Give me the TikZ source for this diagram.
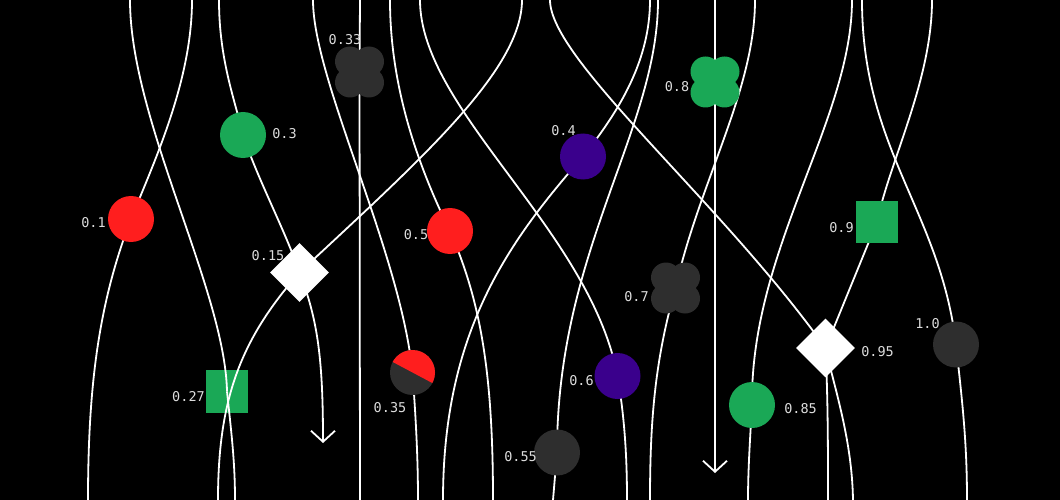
\documentclass[tikz,border=0pt]{standalone}
\usepackage{fontspec}
\newfontfamily\labelfont{DejaVu Sans Mono}
\usetikzlibrary{shapes.geometric,arrows.meta,calc}
\definecolor{cred}{HTML}{FF1E1E}
\definecolor{cgreen}{HTML}{1AA856}
\definecolor{cpurple}{HTML}{3A008C}
\definecolor{cdark}{HTML}{2E2E2E}
\definecolor{ctext}{HTML}{DDDDDD}
\pgfdeclarelayer{bg}
\pgfdeclarelayer{lines}
\pgfsetlayers{bg,lines,main}
\begin{document}
\begin{tikzpicture}[x=1pt,y=-1pt,
  conn/.style={draw=white, line width=1.8pt},
  arrowline/.style={conn, -{Straight Barb[length=11pt,width=24pt]}},
  dot/.style={circle, fill=#1, minimum size=46pt, inner sep=0pt},
  sq/.style={rectangle, fill=#1, minimum size=42.5pt, inner sep=0pt},
  dia/.style={diamond, fill=white, minimum width=59pt, minimum height=59pt, inner sep=0pt},
  clover/.style={rectangle, minimum width=49pt, minimum height=52pt, inner sep=0pt,
    path picture={
      \fill[#1] ([xshift=-9.5pt,yshift=10.5pt]path picture bounding box.center) circle[radius=15pt];
      \fill[#1] ([xshift=9.5pt,yshift=10.5pt]path picture bounding box.center) circle[radius=15pt];
      \fill[#1] ([xshift=-9.5pt,yshift=-10.5pt]path picture bounding box.center) circle[radius=15pt];
      \fill[#1] ([xshift=9.5pt,yshift=-10.5pt]path picture bounding box.center) circle[radius=15pt];
    }},
  lbl/.style={text=ctext, font=\labelfont\fontsize{13.5}{13.5}\selectfont, inner sep=0pt}
]
\useasboundingbox (0,0) rectangle (1060,500);
\begin{pgfonlayer}{bg}
\fill[black] (0,0) rectangle (1060,500);
\end{pgfonlayer}

% top and bottom end points
\coordinate (t1) at (130,0);
\coordinate (t2) at (192,0);
\coordinate (t3) at (219,0);
\coordinate (t4) at (313,0);
\coordinate (t5) at (360,0);
\coordinate (t6) at (390,0);
\coordinate (t7) at (420,0);
\coordinate (t8) at (522,0);
\coordinate (t9) at (550,0);
\coordinate (t10) at (650,0);
\coordinate (t11) at (658,0);
\coordinate (t12) at (715,0);
\coordinate (t13) at (755,0);
\coordinate (t14) at (852,0);
\coordinate (t15) at (862,0);
\coordinate (t16) at (932,0);
\coordinate (b88) at (88,500);
\coordinate (b218) at (218,500);
\coordinate (b235) at (235,500);
\coordinate (b360) at (360,500);
\coordinate (b418) at (418,500);
\coordinate (b443) at (443,500);
\coordinate (b493) at (493,500);
\coordinate (b553) at (553,500);
\coordinate (b627) at (627,500);
\coordinate (b650) at (650,500);
\coordinate (b748) at (748,500);
\coordinate (b828) at (828,500);
\coordinate (b853) at (853,500);
\coordinate (b967) at (967,500);
\coordinate (a1) at (323,443);
\coordinate (a2) at (715,473);

% shapes
\node[dot=cred] (n01) at (131,219) {};
\node[dot=cgreen] (n03) at (243,135) {};
\node[clover=cdark] (n033) at (359.5,72) {};
\node[dia] (n015) at (299.5,272.5) {};
\node[sq=cgreen] (n027) at (227,391.5) {};
\node[dot=cred] (n05) at (450,231) {};
\node[circle, minimum size=45pt, inner sep=0pt, fill=cdark,
  path picture={\fill[cred] ($(path picture bounding box.center)+(-28:40pt)$) -- ($(path picture bounding box.center)+(62:40pt)$) -- ($(path picture bounding box.center)+(152:40pt)$) -- cycle;}]
  (n035) at (412.5,372.5) {};
\node[dot=cpurple] (n04) at (583,156.5) {};
\node[clover=cgreen] (n08) at (715,82) {};
\node[clover=cdark] (n07) at (675.5,288) {};
\node[dot=cpurple] (n06) at (617.5,376) {};
\node[dot=cdark] (n055) at (557,452.5) {};
\node[sq=cgreen] (n09) at (877,222) {};
\node[dia] (n095) at (825.5,348) {};
\node[dot=cgreen] (n085) at (752,405) {};
\node[dot=cdark] (n10) at (956,344.5) {};

% labels
\node[lbl] (l01) at (93.5,222.5) {0.1};
\node[lbl] (l03) at (284.5,133.5) {0.3};
\node[lbl] (l033) at (345,39.5) {0.33};
\node[lbl] (l015) at (268,256) {0.15};
\node[lbl] (l027) at (188.5,397) {0.27};
\node[lbl] (l05) at (416,235) {0.5};
\node[lbl] (l035) at (390,408) {0.35};
\node[lbl] (l04) at (563.5,131) {0.4};
\node[lbl] (l08) at (677,87) {0.8};
\node[lbl] (l07) at (636.5,297) {0.7};
\node[lbl] (l06) at (581.5,381) {0.6};
\node[lbl] (l055) at (520.5,457) {0.55};
\node[lbl] (l09) at (841.5,228) {0.9};
\node[lbl] (l095) at (877.5,352) {0.95};
\node[lbl] (l085) at (800.5,408.5) {0.85};
\node[lbl] (l10) at (927.5,323.5) {1.0};

% connectors behind the shapes
\begin{pgfonlayer}{lines}
\draw[conn] (t2) .. controls (192,80) and (155,160) .. (n01.center);
\draw[conn] (t3) .. controls (219,60) and (235,100) .. (n03.center);
\draw[conn] (t4) .. controls (313,80) and (400,250) .. (n035.center);
\draw[conn] (t5) -- (n033.center) -- (b360);
\draw[conn] (t6) .. controls (390,90) and (420,170) .. (n05.center);
\draw[conn] (t7) .. controls (420,110) and (590,230) .. (n06.center);
\draw[conn] (t8) .. controls (522,70) and (420,160) .. (n015.center);
\draw[conn] (t9) .. controls (550,60) and (720,200) .. (n095.center);
\draw[conn] (t10) .. controls (650,60) and (620,110) .. (n04.center);
\draw[conn] (t11) .. controls (658,130) and (557,250) .. (n055.center);
\draw[arrowline] (t12) -- (n08.center) -- (a2);
\draw[conn] (t13) .. controls (755,90) and (700,180) .. (n07.center);
\draw[conn] (t14) .. controls (852,120) and (750,250) .. (n085.center);
\draw[conn] (t15) .. controls (862,150) and (940,210) .. (n10.center);
\draw[conn] (t16) .. controls (932,80) and (890,160) .. (n09.center);
\draw[conn] (n03.center) .. controls (258,180) and (285,230) .. (n015.center);
\draw[conn] (n09.center) -- (n095.center);
\draw[arrowline] (n015.center) .. controls (318,320) and (323,360) .. (a1);
\draw[conn] (n01.center) .. controls (100,300) and (88,380) .. (b88);
\draw[conn] (n035.center) .. controls (416,420) and (418,460) .. (b418);
\draw[conn] (n04.center) .. controls (510,240) and (443,330) .. (b443);
\draw[conn] (n05.center) .. controls (480,300) and (493,370) .. (b493);
\draw[conn] (n055.center) -- (b553);
\draw[conn] (n06.center) .. controls (625,420) and (627,460) .. (b627);
\draw[conn] (n07.center) .. controls (655,360) and (650,420) .. (b650);
\draw[conn] (n085.center) .. controls (750,440) and (748,470) .. (b748);
\draw[conn] (n095.center) .. controls (828,400) and (828,450) .. (b828);
\draw[conn] (n095.center) .. controls (835,390) and (852,440) .. (b853);
\draw[conn] (n10.center) .. controls (962,400) and (967,440) .. (b967);
\end{pgfonlayer}

% connectors that cross over the 0.27 square
\draw[conn] (t1) .. controls (130,120) and (225,290) .. (n027.center);
\draw[conn] (n027.center) .. controls (231,430) and (235,460) .. (b235);
\draw[conn] (n015.center) .. controls (240,340) and (218,400) .. (b218);
\end{tikzpicture}
\end{document}
